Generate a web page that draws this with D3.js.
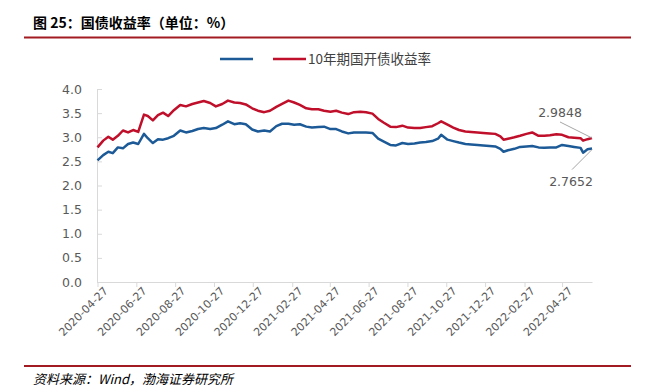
<!doctype html>
<html>
<head>
<meta charset="utf-8">
<title>国债收益率</title>
<script src="https://d3js.org/d3.v7.min.js"></script>
<style>
  body { margin: 0; background: #fff; }
  text { font-family: "DejaVu Sans", sans-serif; }
  .cjk { font-family: "Noto Sans CJK SC", sans-serif; }
</style>
</head>
<body>
<svg width="652" height="390"></svg>
<script>
// dates
var dates = ["2020-04-27","2020-05-06","2020-05-14","2020-05-21","2020-05-29","2020-06-06","2020-06-14","2020-06-22","2020-06-30",
  "2020-07-09","2020-07-15","2020-07-23","2020-07-31","2020-08-08","2020-08-16","2020-08-25","2020-09-04","2020-09-13","2020-09-23",
  "2020-10-02","2020-10-11","2020-10-21","2020-10-30","2020-11-09","2020-11-18","2020-11-28","2020-12-07","2020-12-16","2020-12-26",
  "2021-01-04","2021-01-14","2021-01-23","2021-02-02","2021-02-11","2021-02-21","2021-03-02","2021-03-11","2021-03-21","2021-03-30",
  "2021-04-09","2021-04-18","2021-04-28","2021-05-07","2021-05-16","2021-05-26","2021-06-04","2021-06-14","2021-06-23","2021-07-03",
  "2021-07-12","2021-07-21","2021-07-31","2021-08-09","2021-08-19","2021-08-28","2021-09-07","2021-09-16","2021-09-25","2021-10-05",
  "2021-10-14","2021-10-19","2021-10-29","2021-11-07","2021-11-16","2021-11-26","2021-12-05","2021-12-15","2021-12-24","2022-01-03",
  "2022-01-12","2022-01-20","2022-01-25","2022-02-01","2022-02-11","2022-02-20","2022-03-02","2022-03-11","2022-03-21","2022-03-30",
  "2022-04-08","2022-04-18","2022-04-27","2022-05-07","2022-05-16","2022-05-26","2022-05-30","2022-06-06","2022-06-13"];

// 10年期国开债收益率 (red)
var cdbYield = [2.79,2.93,3.01,2.95,3.03,3.14,3.10,3.15,3.11,
  3.47,3.44,3.35,3.46,3.51,3.44,3.56,3.67,3.64,3.69,
  3.72,3.75,3.71,3.64,3.69,3.76,3.72,3.71,3.68,3.60,
  3.55,3.52,3.55,3.63,3.69,3.76,3.72,3.67,3.60,3.58,
  3.58,3.55,3.53,3.55,3.51,3.48,3.52,3.53,3.52,3.49,
  3.38,3.30,3.22,3.21,3.24,3.20,3.19,3.19,3.21,3.23,
  3.29,3.33,3.26,3.20,3.15,3.12,3.11,3.10,3.09,3.08,
  3.07,3.02,2.95,2.97,3.00,3.03,3.07,3.10,3.03,3.03,
  3.04,3.06,3.05,3.00,2.99,2.98,2.93,2.96,2.9848];

// 国债收益率 (blue, unlabeled in legend)
var govYield = [2.52,2.63,2.70,2.67,2.79,2.77,2.86,2.89,2.86,
  3.07,2.98,2.88,2.96,2.95,2.98,3.03,3.14,3.10,3.13,
  3.17,3.19,3.17,3.19,3.26,3.33,3.27,3.29,3.27,3.16,
  3.12,3.14,3.12,3.23,3.28,3.28,3.26,3.27,3.22,3.20,
  3.21,3.22,3.17,3.17,3.12,3.08,3.10,3.10,3.10,3.09,
  2.97,2.91,2.84,2.83,2.88,2.86,2.87,2.89,2.90,2.92,
  2.97,3.05,2.95,2.92,2.89,2.86,2.85,2.84,2.83,2.82,
  2.81,2.76,2.70,2.73,2.76,2.80,2.81,2.82,2.79,2.78,
  2.79,2.79,2.84,2.82,2.80,2.78,2.68,2.75,2.7652];

var yTicks = [0, 0.5, 1, 1.5, 2, 2.5, 3, 3.5, 4];
var xTickLabels = ["2020-04-27","2020-06-27","2020-08-27","2020-10-27","2020-12-27","2021-02-27","2021-04-27",
  "2021-06-27","2021-08-27","2021-10-27","2021-12-27","2022-02-27","2022-04-27"];

var parse = d3.timeParse("%Y-%m-%d");
var svg = d3.select("svg");

var redColor = "#c00f2a";
var blueColor = "#1c5a97";
var axisColor = "#d9d9d9";
var textColor = "#595959";

var x = d3.scaleTime()
    .domain([parse("2020-04-27"), parse("2022-06-13")])
    .range([97.5, 592]);

var y = d3.scaleLinear()
    .domain([0, 4])
    .range([282, 89]);

// title and rules
svg.append("text").attr("class", "cjk")
    .attr("x", 33).attr("y", 28)
    .attr("font-size", 14).attr("font-weight", "bold").attr("fill", "#000")
    .text("图 25：国债收益率（单位：%）");

svg.append("line").attr("x1", 24).attr("x2", 631).attr("y1", 37.5).attr("y2", 37.5)
    .attr("stroke", "#a31b22").attr("stroke-width", 2);

svg.append("line").attr("x1", 24).attr("x2", 631).attr("y1", 366).attr("y2", 366)
    .attr("stroke", "#a31b22").attr("stroke-width", 2);

svg.append("text").attr("class", "cjk")
    .attr("x", 33).attr("y", 384)
    .attr("font-size", 13).attr("font-style", "italic").attr("fill", "#000")
    .text("资料来源：Wind，渤海证券研究所");

// legend
var legend = svg.append("g");
legend.append("line").attr("x1", 220).attr("x2", 253).attr("y1", 59).attr("y2", 59)
    .attr("stroke", blueColor).attr("stroke-width", 2.5);
legend.append("line").attr("x1", 273).attr("x2", 306).attr("y1", 59).attr("y2", 59)
    .attr("stroke", redColor).attr("stroke-width", 2.5);
legend.append("text").attr("class", "cjk")
    .attr("x", 308).attr("y", 64)
    .attr("font-size", 13.5).attr("fill", "#404040")
    .text("10年期国开债收益率");

// axes
var yAxis = svg.append("g")
    .attr("transform", "translate(97,0)")
    .call(d3.axisLeft(y).tickValues(yTicks).tickFormat(d3.format(".1f")).tickSize(-5).tickPadding(15));
yAxis.select(".domain").attr("stroke", axisColor);
yAxis.selectAll(".tick line").attr("stroke", axisColor);
yAxis.selectAll("text").attr("fill", textColor).attr("font-size", 12.5)
    .attr("font-family", "DejaVu Sans");

var xAxis = svg.append("g")
    .attr("transform", "translate(0,282)")
    .call(d3.axisBottom(x).tickValues(xTickLabels.map(parse)).tickFormat(d3.timeFormat("%Y-%m-%d")).tickSize(5).tickSizeOuter(0));
xAxis.select(".domain").attr("stroke", axisColor);
xAxis.selectAll(".tick line").attr("stroke", axisColor);
xAxis.selectAll("text")
    .attr("fill", textColor).attr("font-size", 11).attr("font-family", "DejaVu Sans")
    .attr("text-anchor", "end")
    .attr("dy", 0)
    .attr("transform", "translate(5,4) rotate(-45)");

// lines
var rows = dates.map(function (d, i) {
    return { date: parse(d), cdb: cdbYield[i], gov: govYield[i] };
});

var lineCdb = d3.line().x(function (d) { return x(d.date); }).y(function (d) { return y(d.cdb); });
var lineGov = d3.line().x(function (d) { return x(d.date); }).y(function (d) { return y(d.gov); });

svg.append("path").datum(rows).attr("d", lineGov)
    .attr("fill", "none").attr("stroke", blueColor).attr("stroke-width", 2.5).attr("stroke-linejoin", "round");
svg.append("path").datum(rows).attr("d", lineCdb)
    .attr("fill", "none").attr("stroke", redColor).attr("stroke-width", 2.5).attr("stroke-linejoin", "round");

// end-value callouts
var last = rows[rows.length - 1];
var ex = x(last.date);
svg.append("line").attr("x1", ex).attr("y1", y(last.cdb)).attr("x2", ex - 32).attr("y2", y(last.cdb) - 16)
    .attr("stroke", "#a6a6a6").attr("stroke-width", 1);
svg.append("text").attr("x", ex - 32).attr("y", y(last.cdb) - 21)
    .attr("text-anchor", "middle").attr("font-size", 12.5).attr("fill", textColor)
    .text(d3.format(".4f")(last.cdb));

svg.append("line").attr("x1", ex).attr("y1", y(last.gov) + 1).attr("x2", ex - 20).attr("y2", y(last.gov) + 21)
    .attr("stroke", "#a6a6a6").attr("stroke-width", 1);
svg.append("text").attr("x", ex - 21).attr("y", y(last.gov) + 37)
    .attr("text-anchor", "middle").attr("font-size", 12.5).attr("fill", textColor)
    .text(d3.format(".4f")(last.gov));
</script>
</body>
</html>
